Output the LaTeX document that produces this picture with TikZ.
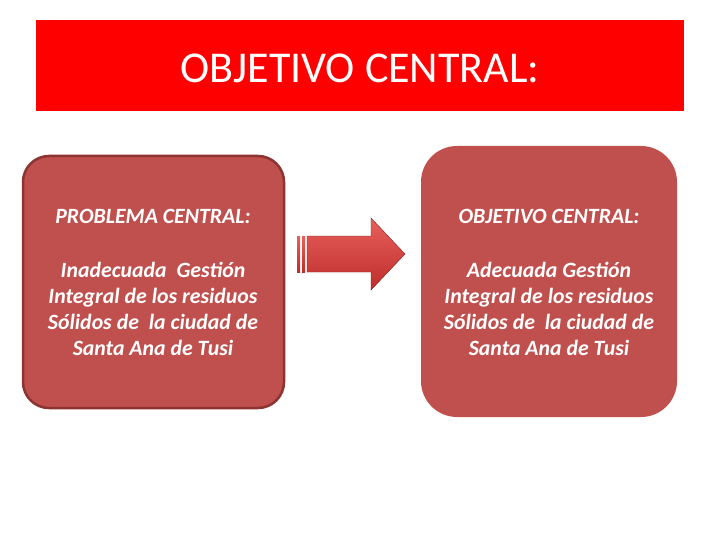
\documentclass[tikz,border=0pt]{standalone}
\usepackage{fontspec}
\setmainfont{Carlito}
\usetikzlibrary{shadows}
\definecolor{banner}{RGB}{255,0,0}
\definecolor{boxfill}{RGB}{192,80,77}
\definecolor{boxline}{RGB}{140,52,50}
\definecolor{arrtop}{RGB}{232,96,92}
\definecolor{arrbot}{RGB}{190,45,42}
\tikzset{
  boxtext/.style={text=white, font=\fontsize{21.8}{26}\selectfont\bfseries\itshape, align=center},
}
\begin{document}
\begin{tikzpicture}[x=1pt,y=-1pt]
\useasboundingbox (0,0) rectangle (720,540);
\fill[white] (0,0) rectangle (720,540);
% banner
\fill[banner] (36,20) rectangle (684,111);
\node[text=white, font=\fontsize{44}{50}\selectfont] (title) at (360,68) {OBJETIVO CENTRAL:};
% left box
\draw[boxline, line width=2.5pt, fill=boxfill, rounded corners=26pt] (23,156) rectangle (284,408);
\node[boxtext] (lhead) at (153,216) {PROBLEMA CENTRAL:};
\node[boxtext] (ltext) at (153,309) {Inadecuada~ Gestión\\Integral de los residuos\\Sólidos de~ la ciudad de\\Santa Ana de Tusi};
% right box
\fill[boxfill, rounded corners=36pt] (421,146) rectangle (677,417);
\node[boxtext] (rhead) at (549,216) {OBJETIVO CENTRAL:};
\node[boxtext] (rtext) at (549,309) {Adecuada Gestión\\Integral de los residuos\\Sólidos de~ la ciudad de\\Santa Ana de Tusi};
% arrow
\shade[top color=arrtop, bottom color=arrbot] (297,236) rectangle (300,272);
\shade[top color=arrtop, bottom color=arrbot] (302,236) rectangle (305,272);
\shade[top color=arrtop, bottom color=arrbot] (307,236) -- (371,236) -- (371,218) -- (405,254) -- (371,290) -- (371,272) -- (307,272) -- cycle;
\draw[arrbot!70!black, line width=0.4pt] (307,236) -- (371,236) -- (371,218) -- (405,254) -- (371,290) -- (371,272) -- (307,272) -- cycle;
\end{tikzpicture}
\end{document}
